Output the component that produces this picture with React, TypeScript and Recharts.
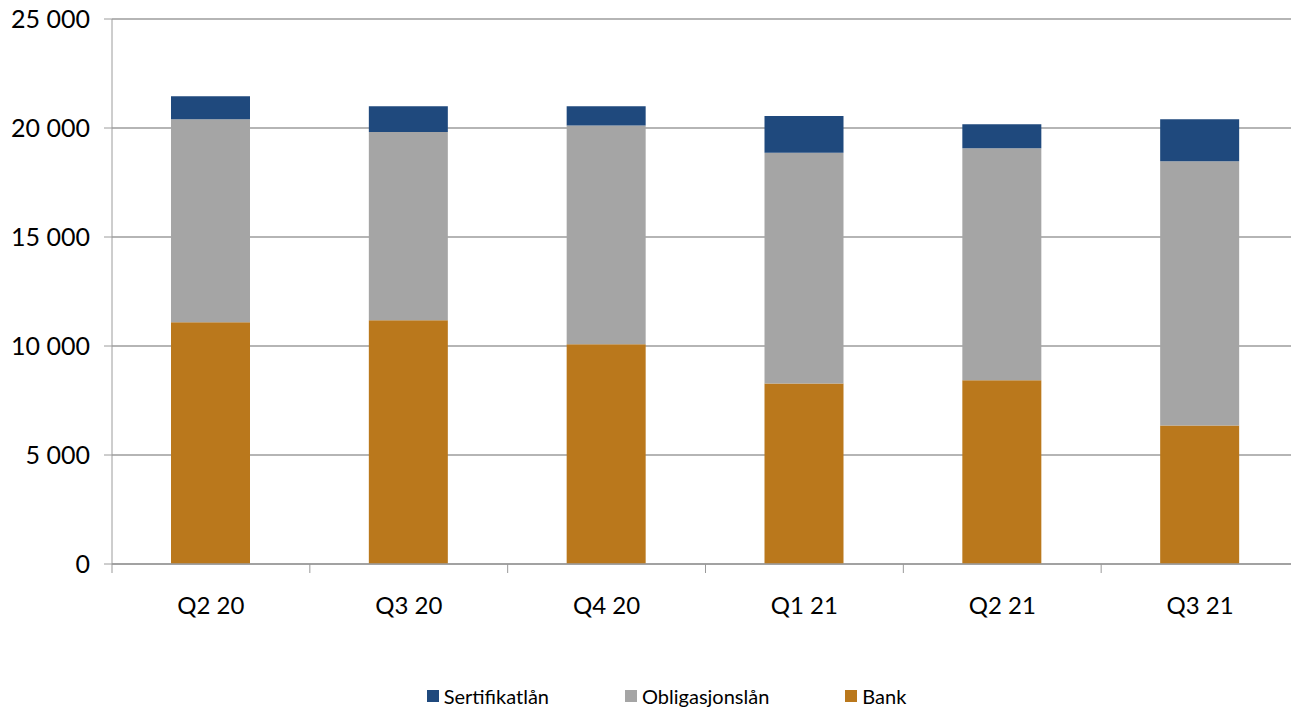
import { BarChart, Bar, XAxis, YAxis, CartesianGrid, Legend } from "recharts";

const quarters = ["Q2 20", "Q3 20", "Q4 20", "Q1 21", "Q2 21", "Q3 21"];
const bank = [11090, 11180, 10080, 8275, 8430, 6350];
const obligasjonslan = [9315, 8642, 10035, 10585, 10644, 12129];
const sertifikatlan = [1054, 1178, 885, 1696, 1100, 1924];
const yTicks = [0, 5000, 10000, 15000, 20000, 25000];

const series = [
  { key: "sertifikatlan", name: "Sertifikatlån", color: "#1F497D" },
  { key: "obligasjonslan", name: "Obligasjonslån", color: "#A5A5A5" },
  { key: "bank", name: "Bank", color: "#BA781C" },
];

const data = quarters.map((q, i) => ({
  quarter: q,
  bank: bank[i],
  obligasjonslan: obligasjonslan[i],
  sertifikatlan: sertifikatlan[i],
}));

const CHART_W = 1299;
const CHART_H = 708;
const Y_AXIS_W = 112;
const BAND = (CHART_W - Y_AXIS_W) / quarters.length;
const FONT = "Lato, 'Open Sans', sans-serif";

const fmt = (v: number) =>
  String(v).replace(/\B(?=(\d{3})+(?!\d))/g, " ");

function QuarterTick(props: any) {
  const { x, y, payload } = props;
  const left = x - BAND / 2;
  return (
    <g>
      <line x1={left} y1={y - 9} x2={left} y2={y} stroke="#999" strokeWidth={1} />
      <text
        x={x}
        y={y + 41}
        textAnchor="middle"
        fontSize={24}
        fontFamily={FONT}
        fill="#000"
      >
        {payload.value}
      </text>
    </g>
  );
}

function LegendBox() {
  return (
    <div
      style={{
        display: "flex",
        justifyContent: "center",
        gap: 76,
        paddingLeft: 34,
        fontFamily: FONT,
        fontSize: 20,
        color: "#000",
        lineHeight: "24px",
      }}
    >
      {series.map((s) => (
        <div key={s.key} style={{ display: "flex", alignItems: "center" }}>
          <span
            style={{
              width: 12,
              height: 12,
              background: s.color,
              display: "inline-block",
              marginRight: 5,
            }}
          />
          {s.name}
        </div>
      ))}
    </div>
  );
}

export default function App() {
  return (
    <div
      style={{
        position: "absolute",
        left: 0,
        top: 0,
        width: 1291,
        height: CHART_H,
        overflow: "hidden",
        background: "#fff",
      }}
    >
      <BarChart
        width={CHART_W}
        height={CHART_H}
        data={data}
        margin={{ top: 19, right: 0, bottom: 0, left: 0 }}
      >
        <CartesianGrid stroke="#9c9c9c" strokeWidth={1.5} vertical={false} />
        <XAxis
          dataKey="quarter"
          height={120}
          tickLine={false}
          tickSize={9}
          tickMargin={0}
          axisLine={{ stroke: "#9c9c9c", strokeWidth: 1.5 }}
          tick={<QuarterTick />}
          interval={0}
        />
        <YAxis
          width={Y_AXIS_W}
          domain={[0, 25000]}
          ticks={yTicks}
          tickFormatter={fmt}
          tickSize={8}
          tickMargin={14}
          tickLine={{ stroke: "#9c9c9c" }}
          axisLine={{ stroke: "#9c9c9c" }}
          tick={{ fontSize: 25, fill: "#000", fontFamily: FONT }}
        />
        <Legend verticalAlign="bottom" height={24} content={<LegendBox />} />
        <Bar dataKey="bank" name="Bank" stackId="a" fill="#BA781C" barSize={79} isAnimationActive={false} />
        <Bar dataKey="obligasjonslan" name="Obligasjonslån" stackId="a" fill="#A5A5A5" barSize={79} isAnimationActive={false} />
        <Bar dataKey="sertifikatlan" name="Sertifikatlån" stackId="a" fill="#1F497D" barSize={79} isAnimationActive={false} />
      </BarChart>
    </div>
  );
}
